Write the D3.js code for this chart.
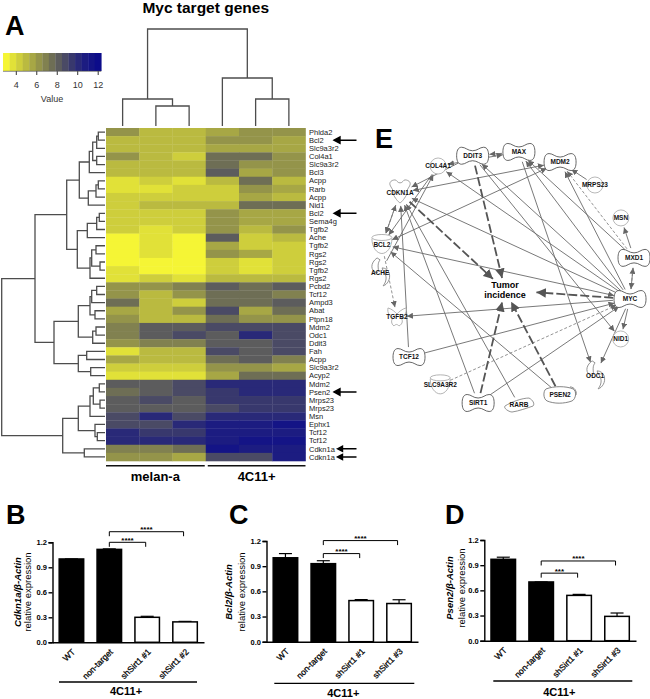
<!DOCTYPE html>
<html><head><meta charset="utf-8">
<script src="https://cdn.jsdelivr.net/npm/d3@7/dist/d3.min.js"></script>
<style>
html,body{margin:0;padding:0;background:#fff}
svg{display:block}
text{font-family:"Liberation Sans",Arial,sans-serif}
</style></head><body>
<svg id="c" width="650" height="699"></svg>
<script>
// ---------- heatmap data ----------
const geneLabels=["Phlda2","Bcl2","Slc9a3r2","Col4a1","Slc9a3r2","Bcl3","Acpp","Rarb","Acpp","Nid1","Bcl2","Sema4g","Tgfb2","Ache","Tgfb2","Rgs2","Rgs2","Tgfb2","Rgs2","Pcbd2","Tcf12","Ampd3","Abat","Ptpn18","Mdm2","Odc1","Ddit3","Fah","Acpp","Slc9a3r2","Acyp2","Mdm2","Psen2","Mrps23","Mrps23","Msn","Ephx1","Tcf12","Tcf12","Cdkn1a","Cdkn1a"];
const heatValues=[
[6,5.1,5.1,5.6,6.3,6.3],[5.1,5.1,5.1,6.3,6.3,5.6],[5.1,5.1,5.1,5.6,5.6,5.6],
[5.9,5.1,4.2,7.2,7.2,6.5],[5.1,5.1,5.1,7.2,6.2,6.5],[5.1,5.1,5.1,8,5.6,6.5],
[3.4,4.6,3.6,5.2,7.3,5],[3.4,3.6,4.5,4.5,6.5,5.8],[4.5,4.5,4.5,4.5,5.8,5],
[4.5,5.2,5.2,5.2,7.6,7.6],[4.5,4.5,4.5,6.4,5.7,5.7],[4.5,4.5,4.5,6.4,5.7,5.7],
[4.5,3.9,4.5,6.4,4.8,6],[3.1,3.9,2.9,8,4.3,5],[3.3,3.4,2.8,5.6,4.5,4.5],
[3,3.6,3,5.9,5.5,4.6],[2.9,2.9,2.9,4.5,3.9,4.6],[3.5,2.9,2.9,4.5,3.9,4.6],
[3.5,4.2,3.6,5,5,5],[6,6.5,7,8,7.3,8],[6,5,6.4,7.2,7.2,7],
[7.2,5,4.2,7.2,7.2,8],[5.6,5,5.9,9,5.5,7.3],[6,5,5,7.2,6.5,6.5],
[7,8,8,8.8,8.8,8.8],[7,8,8.5,8,9.8,8.8],[6.2,7,7,8,8,8.8],
[3.8,4.8,4.8,9,8,8.8],[5.8,4.8,4.8,7.2,8,7],[4,4,4,6,6.3,5.6],
[3.5,3.5,3.5,5.3,7.3,7.3],[8,8,8.5,10.3,10,10],[7.2,8,8.5,9.5,10,10],
[8,9,8,9.5,9.5,9.5],[8,8,8,8.8,9.5,9.5],[8.8,9.8,8.8,10,10,10],
[8.8,8.6,10.3,10.8,10.8,11.3],[9.8,9.5,9.5,10.8,10.8,10.8],[10.3,10.3,10.3,10.8,11.2,11.2],
[7,7,7.5,11.5,11,11],[6,6,5.5,8.6,8.6,10.8]];
const legendTicks=[4,6,8,10,12];
const arrowRowsLarge=[1,10,32], arrowRowsSmall=[39,40];
// merge trees: [height, left, right], leaves are row/column indices
const colTree=[97,[27,0,[20,1,2]],[48,3,[27,4,5]]];
const rowTree=[103.3,
 [70,
  [38.3,
   [25.7,
    [15.7,[12.3,[8.3,[6.7,0,1],2],[8.3,3,4]],5],
    [16.7,[9,[6.7,6,7],8],9]],
   [27.7,
    [17.7,[8.3,[5.7,10,11],12],13],
    [15,[13.3,[9,14,15],[5,16,17]],18]]],
  [51,
   [26.7,
    [15,[13.3,[8.3,19,20],21],[10,22,23]],
    [12.3,[9,24,25],26]],
   [26.7,[18.3,27,28],[14.3,29,30]]]],
 [42.3,
  [26.7,
   [15,[11.7,[5.7,31,32],[5,33,34]],35],
   [10,36,[7.7,37,38]]],
  [20.7,39,40]]];
// ---------- bar data ----------
const barCats=[["WT","non-target","shSirt1 #1","shSirt1 #2"],["WT","non-target","shSirt1 #1","shSirt1 #3"],["WT","non-target","shSirt1 #1","shSirt1 #3"]];
const barVals=[[1,1.115,.3,.245],[1,.93,.49,.455],[.97,.7,.54,.29]];
const barErrs=[[0,.006,.012,.006],[.05,.035,.012,.045],[.025,0,.012,.04]];
const barGenes=["Cdkn1a","Bcl2","Psen2"];
const yTicks=[0,.3,.6,.9,1.2];
// ---------- network data ----------
const nodeNames=["DDIT3","MAX","MDM2","MRPS23","MSN","MXD1","MYC","NID1","ODC1","PSEN2","RARB","SIRT1","SLC9A3R2","TCF12","TGFB2","ACHE","BCL2","CDKN1A","COL4A1","Tumor"];
const nodeAngles=[344.3,5.4,24.6,43.4,62.2,81,99.7,118.2,138,155.6,174.6,193,212,231.1,250.5,272.3,285,308.5,328.4,189.5];
const nodeRadii=[127,126.6,127.5,128,128.8,128.6,124.8,129,131.7,128.4,127.6,128.3,126,125.9,116.7,127,129.5,136.7,131.5,12.2];
const nodeShapes=["peanut","peanut","peanut","circle","circle","peanut","peanut","circle","crescent","band","rhomb","peanut","cup","peanut","butterfly","crescent","cup","heart","circle","none"];
const solidEdges=[["MAX","DDIT3",0],["COL4A1","MAX",1],["CDKN1A","MDM2",1],["BCL2","MDM2",1],["DDIT3","CDKN1A",0],
["MYC","CDKN1A",0],["MYC","COL4A1",0],["MYC","DDIT3",0],["MYC","MAX",0],["MYC","MDM2",0],["MYC","BCL2",1],["MYC","TGFB2",0],
["TCF12","MYC",0],["SIRT1","MYC",0],["MYC","ODC1",0],["MYC","NID1",0],["MAX","ODC1",0],["DDIT3","NID1",0],["MXD1","MAX",0],["MXD1","MSN",0],["MYC","MXD1",0],["MRPS23","MDM2",0],
["BCL2","CDKN1A",1],["TCF12","CDKN1A",0],["SIRT1","CDKN1A",0],["RARB","CDKN1A",0],["PSEN2","BCL2",0],["ACHE","COL4A1",0],["COL4A1","BCL2",0]];
const dashedEdges=[["SLC9A3R2","MYC"],["MXD1","MDM2"],["MXD1","MYC"],["BCL2","TGFB2"],["CDKN1A","BCL2"]];
const tumorEdges=["CDKN1A","DDIT3","MYC","SIRT1","PSEN2"];

const svg=d3.select("#c");
const GRAY="#4d4d4d";
function letter(t,x,y){svg.append("text").attr("x",x).attr("y",y).attr("font-size",27).attr("font-weight","bold").text(t);}
letter("A",5,35);letter("B",6,524);letter("C",229,524);letter("D",445,524);letter("E",375,148);
svg.append("text").attr("x",205.7).attr("y",13).attr("text-anchor","middle").attr("font-size",15.5).attr("font-weight","bold").text("Myc target genes");

// ---------- heatmap ----------
const colScale=d3.scaleBand().domain(d3.range(6)).range([106,305.5]);
const rowScale=d3.scaleBand().domain(d3.range(geneLabels.length)).range([128,461]);
const color=d3.scaleLinear().domain([2.7,5,7.5,9.5,10.5,12.3]).range(["#ffff33","#b8b840","#6e6e55","#36366e","#1f1f80","#08088c"]);
const nBins=15;
const binned=d3.scaleQuantize().domain([2.7,12.3]).range(d3.range(nBins).map(i=>color(2.7+(i+.5)*9.6/nBins)));
svg.append("g").selectAll("g").data(heatValues).join("g")
 .selectAll("rect").data((d,i)=>d.map((v,j)=>({v,i,j}))).join("rect")
 .attr("x",d=>colScale(d.j)).attr("y",d=>rowScale(d.i))
 .attr("width",colScale.bandwidth()+.3).attr("height",rowScale.bandwidth()+.3)
 .attr("fill",d=>binned(d.v));
svg.append("g").selectAll("text").data(geneLabels).join("text")
 .attr("x",309).attr("y",(d,i)=>rowScale(i)+rowScale.bandwidth()/2).attr("dy",".36em")
 .attr("font-size",7.5).attr("fill","#222").text(d=>d);
// arrows
function rowArrows(rows,head,tip){
 svg.append("g").selectAll("path").data(rows).join("path")
 .attr("d",i=>{const y=rowScale(i)+rowScale.bandwidth()/2;
   return `M356.5,${y}H${tip+head} M${tip},${y}l${head+1},${-head*.65}v${head*1.3}z`;})
 .attr("stroke","#000").attr("stroke-width",1.4).attr("fill","#000");
}
rowArrows(arrowRowsLarge,5,334);rowArrows(arrowRowsSmall,4,337.5);
// dendrograms
function drawTree(tree,g,pos,hs,vertical){
 function rec(n){
  if(typeof n==="number")return {p:pos(n),h:0};
  const a=rec(n[1]),b=rec(n[2]),h=n[0];
  const pt=(p,hh)=>vertical?[p,hs(hh)]:[hs(hh),p];
  g.append("path").attr("d",d3.line()([pt(a.p,a.h),pt(a.p,h),pt(b.p,h),pt(b.p,b.h)]));
  return {p:(a.p+b.p)/2,h};
 }
 rec(tree);
}
const colH=d3.scaleLinear().domain([0,100]).range([126,26]);
const rowH=d3.scaleLinear().domain([0,105]).range([105,0]);
const dg=svg.append("g").attr("fill","none").attr("stroke",GRAY).attr("stroke-width",1.3);
drawTree(colTree,dg,i=>colScale(i)+colScale.bandwidth()/2,colH,true);
drawTree(rowTree,dg,i=>rowScale(i)+rowScale.bandwidth()/2,rowH,false);
// groups
[["melan-a",0,2],["4C11+",3,5]].forEach(([t,a,b],k)=>{
 const x0=colScale(a)+(k?2:0),x1=colScale(b)+colScale.bandwidth()-(k?0:1);
 svg.append("line").attr("x1",x0).attr("x2",x1).attr("y1",465.7).attr("y2",465.7).attr("stroke","#111").attr("stroke-width",1.5);
 svg.append("text").attr("x",(x0+x1)/2).attr("y",481).attr("text-anchor","middle").attr("font-size",13).attr("font-weight","bold").text(t);
});
// legend
const legX=d3.scaleLinear().domain([4,12]).range([16.3,98.2]);
const lg=svg.append("g");
lg.selectAll("rect").data(binned.range()).join("rect")
 .attr("x",(d,i)=>legX(2.7+i*9.6/nBins)).attr("y",53)
 .attr("width",legX(4.64)-legX(4)+.3).attr("height",18).attr("fill",d=>d);
lg.selectAll("line").data(legendTicks).join("line")
 .attr("x1",d=>legX(d)).attr("x2",d=>legX(d)).attr("y1",71).attr("y2",75).attr("stroke","#333");
lg.append("line").attr("x1",legX(2.7)).attr("x2",legX(12.3)).attr("y1",71.3).attr("y2",71.3).attr("stroke","#555").attr("stroke-width",.7);
lg.selectAll("text.t").data(legendTicks).join("text").attr("class","t")
 .attr("x",d=>legX(d)).attr("y",88).attr("text-anchor","middle").attr("font-size",9).attr("fill","#333").text(d=>d);
lg.append("text").attr("x",52).attr("y",101.5).attr("text-anchor","middle").attr("font-size",9).attr("fill","#333").text("Value");

// ---------- bars ----------
const panels=[
 {left:52.5,right:204,y12:542.3,y0:642.3,under:[59,197,682],groupX:126,groupY:695,lab1:21,lab2:31,labY:592,
  br:[[1,2,1.2,"****"],[1,3,1.327,"****"]]},
 {left:266.5,right:418,y12:541,y0:641.7,under:[274.3,414.3,683.3],groupX:343.3,groupY:697,lab1:232,lab2:245,labY:592,
  br:[[1,2,1.05,"****"],[1,3,1.205,"****"]]},
 {left:484.3,right:636,y12:540,y0:640.7,under:[493.3,632.3,681],groupX:559.3,groupY:696,lab1:453,lab2:465,labY:588,
  br:[[1,2,.805,"***"],[1,3,.95,"****"]]}];
panels.forEach((P,k)=>{
 const g=svg.append("g");
 const x=d3.scaleBand().domain(barCats[k]).range([P.left,P.right]).paddingInner(.316).paddingOuter(.158);
 const y=d3.scaleLinear().domain([0,1.2]).range([P.y0,P.y12]);
 const cx=c=>x(c)+x.bandwidth()/2;
 g.selectAll("line.err").data(barCats[k]).join("line").attr("class","err")
  .attr("x1",cx).attr("x2",cx).attr("y1",(c,i)=>y(barVals[k][i])).attr("y2",(c,i)=>y(barVals[k][i]+barErrs[k][i]))
  .attr("stroke","#000").attr("stroke-width",1.2);
 g.selectAll("line.cap").data(barCats[k]).join("line").attr("class","cap")
  .attr("x1",c=>cx(c)-6.5).attr("x2",c=>cx(c)+6.5)
  .attr("y1",(c,i)=>y(barVals[k][i]+barErrs[k][i])).attr("y2",(c,i)=>y(barVals[k][i]+barErrs[k][i]))
  .attr("stroke","#000").attr("stroke-width",1.2);
 g.selectAll("rect").data(barCats[k]).join("rect")
  .attr("x",c=>x(c)+.7).attr("width",x.bandwidth()-1.4)
  .attr("y",(c,i)=>y(barVals[k][i])).attr("height",(c,i)=>P.y0-y(barVals[k][i]))
  .attr("fill",(c,i)=>i<2?"#000":"#fff").attr("stroke","#000").attr("stroke-width",1.5);
 const ya=g.append("g").attr("transform",`translate(${P.left},0)`)
  .call(d3.axisLeft(y).tickValues(yTicks).tickFormat(d3.format(".1f")).tickSize(4).tickPadding(1.5));
 ya.selectAll("path,line").attr("stroke","#000").attr("stroke-width",1.4);
 ya.selectAll("text").attr("font-size",7.5).attr("font-weight","bold").attr("font-family","Liberation Sans");
 const xa=g.append("g").attr("transform",`translate(0,${P.y0})`)
  .call(d3.axisBottom(x).tickSize(0).tickSizeOuter(0));
 xa.selectAll("path").attr("stroke","#000").attr("stroke-width",1.6);
 xa.selectAll("text").attr("font-size",8.5).attr("font-family","Liberation Sans").attr("text-anchor","end")
  .attr("x",0).attr("y",0).attr("dy",".36em").attr("transform","translate(2,8) rotate(-45)").attr("stroke","#000").attr("stroke-width",.25);
 // y label
 const t=g.append("text").attr("transform",`translate(${P.lab1},${P.labY}) rotate(-90)`).attr("text-anchor","middle").attr("font-size",9.5);
 t.append("tspan").attr("font-weight","bold").attr("font-style","italic").text(barGenes[k]+"/β-Actin");
 g.append("text").attr("transform",`translate(${P.lab2},${P.labY}) rotate(-90)`).attr("text-anchor","middle").attr("font-size",9.5).text("relative expression");
 // underline
 g.append("line").attr("x1",P.under[0]).attr("x2",P.under[1]).attr("y1",P.under[2]).attr("y2",P.under[2]).attr("stroke","#000").attr("stroke-width",1.3);
 g.append("text").attr("x",P.groupX).attr("y",P.groupY).attr("text-anchor","middle").attr("font-size",11).attr("font-weight","bold").text("4C11+");
 // brackets
 P.br.forEach(([a,b,lev,s])=>{
  const x0=cx(barCats[k][a]),x1=cx(barCats[k][b])-1.5,yy=y(lev);
  g.append("path").attr("d",d3.line()([[x0,yy+4.5],[x0,yy],[x1,yy],[x1,yy+4.5]])).attr("fill","none").attr("stroke","#000").attr("stroke-width",1);
  g.append("text").attr("x",(x0+x1)/2).attr("y",yy+.5).attr("text-anchor","middle").attr("font-size",8).attr("font-weight","bold").text(s);
 });
});

// ---------- network ----------
const net=svg.append("g").attr("transform","translate(507,278)");
const rS=d3.scaleLinear().domain([0,100]).range([0,100]);
const nodes=new Map(nodeNames.map((n,i)=>{const p=d3.pointRadial(nodeAngles[i]*Math.PI/180,rS(nodeRadii[i]));
 return [n,{name:n,x:p[0],y:p[1],shape:nodeShapes[i]}];}));
const pads={peanut:[17,10],circle:[10,10],crescent:[11,15],band:[17,9],rhomb:[15,8],cup:[11,12],butterfly:[10,10],heart:[13,13],none:[32,12]};
function trim(a,b){
 const dx=b.x-a.x,dy=b.y-a.y,L=Math.hypot(dx,dy),ux=dx/L,uy=dy/L;
 const s=(n,u,v)=>{const [w,h]=pads[n.shape];return 1/Math.sqrt((u*u)/(w*w)+(v*v)/(h*h));};
 const s0=s(a,ux,uy),s1=s(b,ux,uy);
 return [[a.x+ux*s0,a.y+uy*s0],[b.x-ux*s1,b.y-uy*s1]];
}
const defs=svg.append("defs");
function marker(id,size,orient,fill){
 defs.append("marker").attr("id",id).attr("markerUnits","userSpaceOnUse").attr("viewBox","0 0 10 10")
  .attr("refX",10).attr("refY",5).attr("markerWidth",size).attr("markerHeight",size).attr("orient",orient)
  .append("path").attr("d","M0,0L10,5L0,10z").attr("fill",fill);
}
marker("a1",6,"auto-start-reverse","#666");marker("a2",9.5,"auto","#555");
const ln=d3.line();
net.append("g").attr("fill","none").attr("stroke","#6a6a6a").attr("stroke-width",.9)
 .selectAll("path").data(solidEdges).join("path")
 .attr("d",e=>ln(trim(nodes.get(e[0]),nodes.get(e[1]))))
 .attr("marker-end","url(#a1)").attr("marker-start",e=>e[2]?"url(#a1)":null);
net.append("g").attr("fill","none").attr("stroke","#777").attr("stroke-width",.8).attr("stroke-dasharray","3 2")
 .selectAll("path").data(dashedEdges).join("path")
 .attr("d",e=>ln(trim(nodes.get(e[0]),nodes.get(e[1]))))
 .attr("marker-end","url(#a1)");
net.append("g").attr("fill","none").attr("stroke","#555").attr("stroke-width",1.8).attr("stroke-dasharray","9 3")
 .selectAll("path").data(tumorEdges).join("path")
 .attr("d",e=>ln(trim(nodes.get(e),nodes.get("Tumor"))))
 .attr("marker-end","url(#a2)");
const shapePaths={
 peanut:"M0,-5C5,-5 7,-8.5 11,-8.5C15,-8.5 16,-4 16,0C16,4 15,8.5 11,8.5C7,8.5 5,5 0,5C-5,5 -7,8.5 -11,8.5C-15,8.5 -16,4 -16,0C-16,-4 -15,-8.5 -11,-8.5C-7,-8.5 -5,-5 0,-5Z",
 circle:"M-8,0A8,8 0 1,1 8,0A8,8 0 1,1 -8,0Z",
 crescent:"M-3,-15C-10,-10 -10,-2 -3,0C-1,-2 -2,-4 -2,-7C-2,-10 -1,-12 0,-13ZM3,-2C7,2 7,8 3,13C7,12 11,6 9,0C8,-3 5,-5 2,-5Z",
 band:"M-14,-6C-6,-9 6,-9 13,-6C17,-4 16,4 12,6C4,9 -6,9 -13,6C-17,4 -17,-4 -14,-6ZM10,-8C14,-8 17,-4 16,0",
 rhomb:"M-14,1C-16,3 -10,7 -7,7C0,6 8,3 14,1C16,-1 14,-5 10,-7C3,-7 -8,-3 -14,1Z",
 cup:"M-10,-7A10,3 0 1,1 10,-7A10,3 0 1,1 -10,-7ZM-10,-6C-10,3 -5,9 0,9C5,9 10,3 10,-6",
 butterfly:"M-9,-9C-5,-8 -2,-5 0,-3C2,-5 5,-8 9,-9C10,-4 7,0 4,1C6,3 6,7 2,9C0,7 -1,7 -3,9C-6,7 -6,3 -4,1C-7,0 -10,-4 -9,-9Z",
 heart:"M-10,-8C-11,-11 -8,-13 -5,-13C-3,-13 -3,-10 0,-10C3,-10 3,-13 5,-13C8,-13 11,-11 10,-8C9,-5 6,-3 7,1C5,5 2,9 0,10C-2,9 -5,5 -7,1C-6,-3 -9,-5 -10,-8Z"};
const strokeFor={peanut:"#555",circle:"#b0b0b0",crescent:"#888",band:"#777",rhomb:"#888",cup:"#aaa",butterfly:"#aaa",heart:"#999"};
const nl=net.append("g");
const nodeList=[...nodes.values()].filter(n=>n.shape!=="none");
nl.selectAll("path").data(nodeList).join("path")
 .attr("transform",d=>`translate(${d.x},${d.y})`)
 .attr("d",d=>shapePaths[d.shape]).attr("fill","#fff").attr("stroke",d=>strokeFor[d.shape]).attr("stroke-width",.9);
nl.selectAll("text").data(nodeList).join("text")
 .attr("x",d=>d.x).attr("y",d=>d.y).attr("dy",".36em").attr("text-anchor","middle")
 .attr("font-size",6.5).attr("font-weight","bold").attr("fill","#111").text(d=>d.name);
const tu=nodes.get("Tumor");
const tt=net.append("text").attr("text-anchor","middle").attr("font-size",9).attr("font-weight","bold");
tt.append("tspan").attr("x",tu.x).attr("y",tu.y-2.4).text("Tumor");
tt.append("tspan").attr("x",tu.x).attr("y",tu.y+8.1).text("incidence");
</script>
</body></html>
